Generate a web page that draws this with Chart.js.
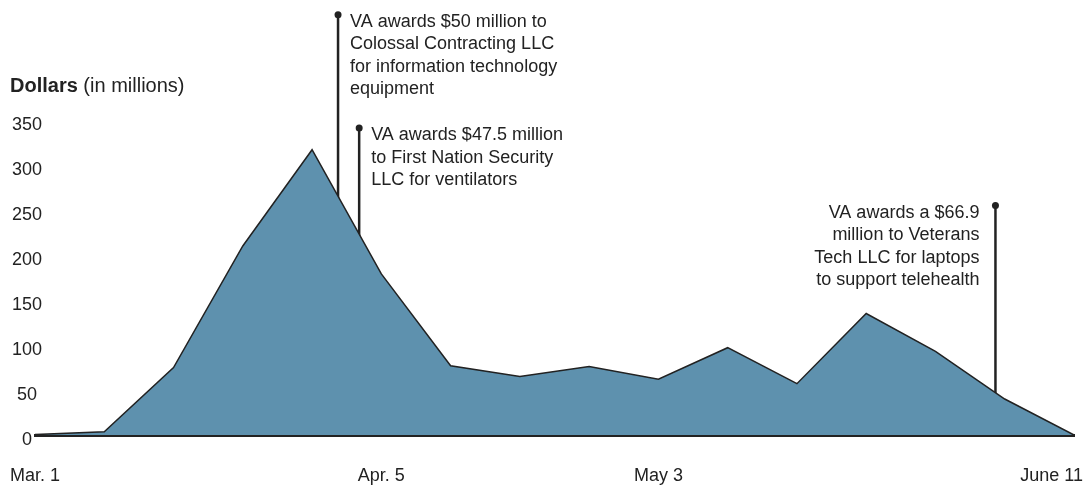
<!DOCTYPE html>
<html>
<head>
<meta charset="utf-8">
<script src="https://cdn.jsdelivr.net/npm/chart.js@4.4.1/dist/chart.umd.min.js"></script>
<style>
  html, body { margin: 0; padding: 0; background: #ffffff; }
  #wrap { width: 1089px; height: 485px; }
</style>
</head>
<body>
<div id="wrap"><canvas id="c" width="1089" height="485"></canvas></div>
<script>
// Weekly categories (Mar. 1 .. June 11)
const categories = ['Mar. 1','Mar. 8','Mar. 15','Mar. 22','Mar. 29','Apr. 5','Apr. 12','Apr. 19','Apr. 26','May 3','May 10','May 17','May 24','May 31','June 7','June 11'];
// Contract dollars (in millions)
const dollars = [0.5, 3.5, 75, 210, 317, 179, 77, 65, 76, 62, 97, 57, 135, 93, 40, 0];
// Tick labels shown on the x axis
const xTickLabels = ['Mar. 1', 'Apr. 5', 'May 3', 'June 11'];
// Y axis ticks
const yTicks = [0, 50, 100, 150, 200, 250, 300, 350];
// Annotation anchors: position along weeks (fractional index) and value at top of leader line
const annotationIndex = [4.375, 4.68, 13.866];
const annotationTopValue = [467, 341, 255];
const annotationText = [
  ['VA awards $50 million to', 'Colossal Contracting LLC', 'for information technology', 'equipment'],
  ['VA awards $47.5 million', 'to First Nation Security', 'LLC for ventilators'],
  ['VA awards a $66.9', 'million to Veterans', 'Tech LLC for laptops', 'to support telehealth']
];
const annotationSide = ['right', 'right', 'left'];

const FONT = '"Liberation Sans", Arial, Helvetica, sans-serif';
const INK = '#222222';

const overlay = {
  id: 'overlay',
  beforeDatasetsDraw(chart) {
    const ctx = chart.ctx, x = chart.scales.x, y = chart.scales.y;
    ctx.save();
    annotationIndex.forEach((idx, i) => {
      const px = x.getPixelForValue(idx);
      const top = y.getPixelForValue(annotationTopValue[i]);
      ctx.strokeStyle = INK;
      ctx.lineWidth = 2.5;
      ctx.beginPath();
      ctx.moveTo(px, top);
      ctx.lineTo(px, y.getPixelForValue(0));
      ctx.stroke();
      ctx.fillStyle = INK;
      ctx.beginPath();
      ctx.arc(px, top, 3.5, 0, Math.PI * 2);
      ctx.fill();
    });
    ctx.restore();
  },
  afterDraw(chart) {
    const ctx = chart.ctx, x = chart.scales.x, y = chart.scales.y;
    ctx.save();
    ctx.fillStyle = INK;
    ctx.textBaseline = 'alphabetic';
    ctx.font = '18px ' + FONT;
    annotationIndex.forEach((idx, i) => {
      const px = x.getPixelForValue(idx);
      const top = y.getPixelForValue(annotationTopValue[i]);
      const left = annotationSide[i] === 'right';
      ctx.textAlign = left ? 'left' : 'right';
      const tx = left ? px + 12 : px - 16;
      annotationText[i].forEach((line, k) => {
        ctx.fillText(line, tx, top + 12 + k * 22.5);
      });
    });
    // axis title
    ctx.textAlign = 'left';
    ctx.font = 'bold 20px ' + FONT;
    ctx.fillText('Dollars', 10, 92);
    const w = ctx.measureText('Dollars').width;
    ctx.font = '20px ' + FONT;
    ctx.fillText(' (in millions)', 10 + w, 92);
    // x tick labels
    ctx.font = '18px ' + FONT;
    ctx.textAlign = 'left';
    xTickLabels.forEach(lbl => {
      const idx = categories.indexOf(lbl);
      const px = x.getPixelForValue(idx);
      const tw = ctx.measureText(lbl).width;
      let lx = px - tw / 2;
      lx = Math.max(8, Math.min(chart.width - 6 - tw, lx));
      ctx.fillText(lbl, lx, 481);
    });
    ctx.restore();
  }
};

new Chart(document.getElementById('c'), {
  type: 'line',
  data: {
    labels: categories,
    datasets: [{
      data: dollars,
      fill: 'origin',
      backgroundColor: '#5e91ae',
      borderColor: '#222222',
      borderWidth: 1.5,
      pointRadius: 0,
      tension: 0
    }]
  },
  options: {
    responsive: false,
    devicePixelRatio: 1,
    animation: false,
    layout: { padding: { top: 120, left: 10, right: 15, bottom: 50 } },
    plugins: { legend: { display: false }, tooltip: { enabled: false } },
    scales: {
      x: {
        z: 1,
        offset: false,
        grid: { display: false, drawTicks: false },
        border: { display: true, color: '#222222', width: 3 },
        ticks: { display: false },
        afterFit(s) { s.height = 0; }
      },
      y: {
        min: 0,
        max: 350,
        afterBuildTicks(s) { s.ticks = yTicks.map(v => ({ value: v })); },
        grid: { display: false, drawTicks: false },
        border: { display: false },
        ticks: {
          color: INK,
          font: { family: FONT, size: 18 },
          mirror: true,
          crossAlign: 'center',
          padding: -23,
          labelOffset: 5
        },
        afterFit(s) { s.width = 25; }
      }
    }
  },
  plugins: [overlay]
});
</script>
</body>
</html>
